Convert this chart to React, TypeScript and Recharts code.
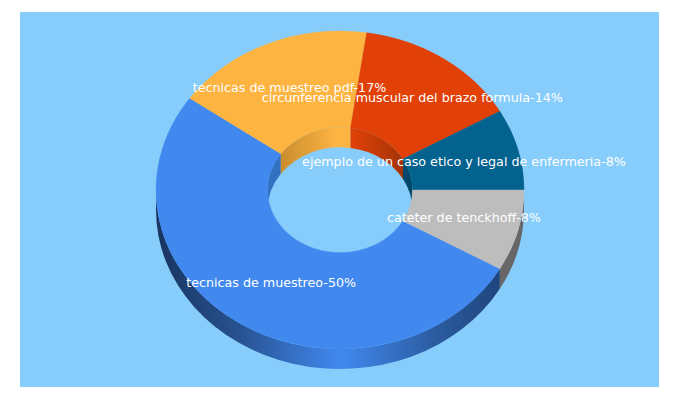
import React from 'react';
import { PieChart, Pie } from 'recharts';

const categories = [
  'tecnicas de muestreo',
  'tecnicas de muestreo pdf',
  'circunferencia muscular del brazo formula',
  'ejemplo de un caso etico y legal de enfermeria',
  'cateter de tenckhoff',
];
const shares = [50, 17, 14, 8, 8];
const colors = ['#4189ef', '#fdb441', '#e14107', '#04628f', '#bdbdbd'];
const outerWallFills = ['url(#wallBlue)', '#fdb441', '#e14107', '#04628f', '#676767'];
const innerWallFills = ['#3270c0', 'url(#innerYellow)', 'url(#innerRed)', '#03476b', '#8c8c8c'];

const data = categories.map((name, i) => ({ name, value: shares[i], fill: colors[i] }));

const CX = 320;
const CY = 178;
const OUTER = 184;
const INNER = 72.5;
const SQUASH = 0.864;
const DEPTH = 20;
const START = -29.69;

const pt = (cx: number, cy: number, r: number, deg: number) => {
  const a = (deg * Math.PI) / 180;
  return { x: cx + r * Math.cos(a), y: cy - r * SQUASH * Math.sin(a) };
};

// band between an arc on the top face and the same arc pushed down by the depth
const band = (cx: number, cy: number, r: number, a1: number, a2: number) => {
  const p1 = pt(cx, cy, r, a1);
  const p2 = pt(cx, cy, r, a2);
  const large = Math.abs(a1 - a2) > 180 ? 1 : 0;
  const ry = r * SQUASH;
  return (
    `M${p1.x},${p1.y} A${r},${ry} 0 ${large} 1 ${p2.x},${p2.y} ` +
    `L${p2.x},${p2.y + DEPTH} A${r},${ry} 0 ${large} 0 ${p1.x},${p1.y + DEPTH} Z`
  );
};

// visible part of [a2, a1] inside [lo + k*360, hi + k*360]
const clipAngles = (a1: number, a2: number, lo: number, hi: number) => {
  const out: [number, number][] = [];
  for (const k of [0, -360, 360]) {
    const top = Math.min(a1, hi + k);
    const bottom = Math.max(a2, lo + k);
    if (top > bottom) out.push([top, bottom]);
  }
  return out;
};

const WallShape = (props: any) => {
  const { cx, cy, innerRadius, outerRadius, startAngle, endAngle, name } = props;
  const i = categories.indexOf(name);
  const hi = Math.max(startAngle, endAngle);
  const lo = Math.min(startAngle, endAngle);
  return (
    <g>
      {clipAngles(hi, lo, -180, 0).map(([a, b]) => (
        <path key={`o${a}`} d={band(cx, cy, outerRadius, a, b)} fill={outerWallFills[i]} />
      ))}
      {clipAngles(hi, lo, 0, 180).map(([a, b]) => (
        <path key={`i${a}`} d={band(cx, cy, innerRadius, a, b)} fill={innerWallFills[i]} />
      ))}
    </g>
  );
};

const TopShape = (props: any) => {
  const { cx, cy, innerRadius, outerRadius, startAngle, endAngle, fill } = props;
  const hi = Math.max(startAngle, endAngle);
  const lo = Math.min(startAngle, endAngle);
  const large = hi - lo > 180 ? 1 : 0;
  const o1 = pt(cx, cy, outerRadius, hi);
  const o2 = pt(cx, cy, outerRadius, lo);
  const i1 = pt(cx, cy, innerRadius, hi);
  const i2 = pt(cx, cy, innerRadius, lo);
  const d =
    `M${o1.x},${o1.y} A${outerRadius},${outerRadius * SQUASH} 0 ${large} 1 ${o2.x},${o2.y} ` +
    `L${i2.x},${i2.y} A${innerRadius},${innerRadius * SQUASH} 0 ${large} 0 ${i1.x},${i1.y} Z`;
  return <path d={d} fill={fill} stroke={fill} strokeWidth={0.4} />;
};

const renderLabel = (props: any) => {
  const { cx, cy, midAngle, innerRadius, outerRadius, name, value } = props;
  const p = pt(cx, cy, (innerRadius + outerRadius) / 2, midAngle);
  return (
    <text
      x={p.x}
      y={p.y - 0.5}
      textAnchor="middle"
      dominantBaseline="central"
      fill="#ffffff"
      fontFamily="'DejaVu Sans', sans-serif"
      fontSize={12.7}
    >
      {`${name}-${value}%`}
    </text>
  );
};

export default function App() {
  return (
    <div
      style={{
        position: 'absolute',
        left: 20,
        top: 12,
        width: 639,
        height: 375,
        background: '#87cdfb',
      }}
    >
      <PieChart width={639} height={375} margin={{ top: 0, right: 0, bottom: 0, left: 0 }}>
        <defs>
          <linearGradient id="wallBlue" gradientUnits="userSpaceOnUse" x1={136} x2={504} y1={0} y2={0}>
            <stop offset="0%" stopColor="#193460" />
            <stop offset="22%" stopColor="#27518f" />
            <stop offset="50%" stopColor="#4189ef" />
            <stop offset="75%" stopColor="#2c5da3" />
            <stop offset="100%" stopColor="#1a3c6e" />
          </linearGradient>
          <linearGradient id="innerYellow" gradientUnits="userSpaceOnUse" x1={260} x2={331} y1={0} y2={0}>
            <stop offset="0%" stopColor="#c98d30" />
            <stop offset="80%" stopColor="#fdb441" />
            <stop offset="100%" stopColor="#fdb441" />
          </linearGradient>
          <linearGradient id="innerRed" gradientUnits="userSpaceOnUse" x1={331} x2={384} y1={0} y2={0}>
            <stop offset="0%" stopColor="#e14107" />
            <stop offset="100%" stopColor="#a33406" />
          </linearGradient>
        </defs>
        <Pie
          data={data}
          dataKey="value"
          nameKey="name"
          cx={CX}
          cy={CY}
          innerRadius={INNER}
          outerRadius={OUTER}
          startAngle={START}
          endAngle={START - 360}
          shape={WallShape}
          stroke="none"
          isAnimationActive={false}
        />
        <Pie
          data={data}
          dataKey="value"
          nameKey="name"
          cx={CX}
          cy={CY}
          innerRadius={INNER}
          outerRadius={OUTER}
          startAngle={START}
          endAngle={START - 360}
          shape={TopShape}
          stroke="none"
          label={renderLabel}
          labelLine={false}
          isAnimationActive={false}
        />
      </PieChart>
    </div>
  );
}
